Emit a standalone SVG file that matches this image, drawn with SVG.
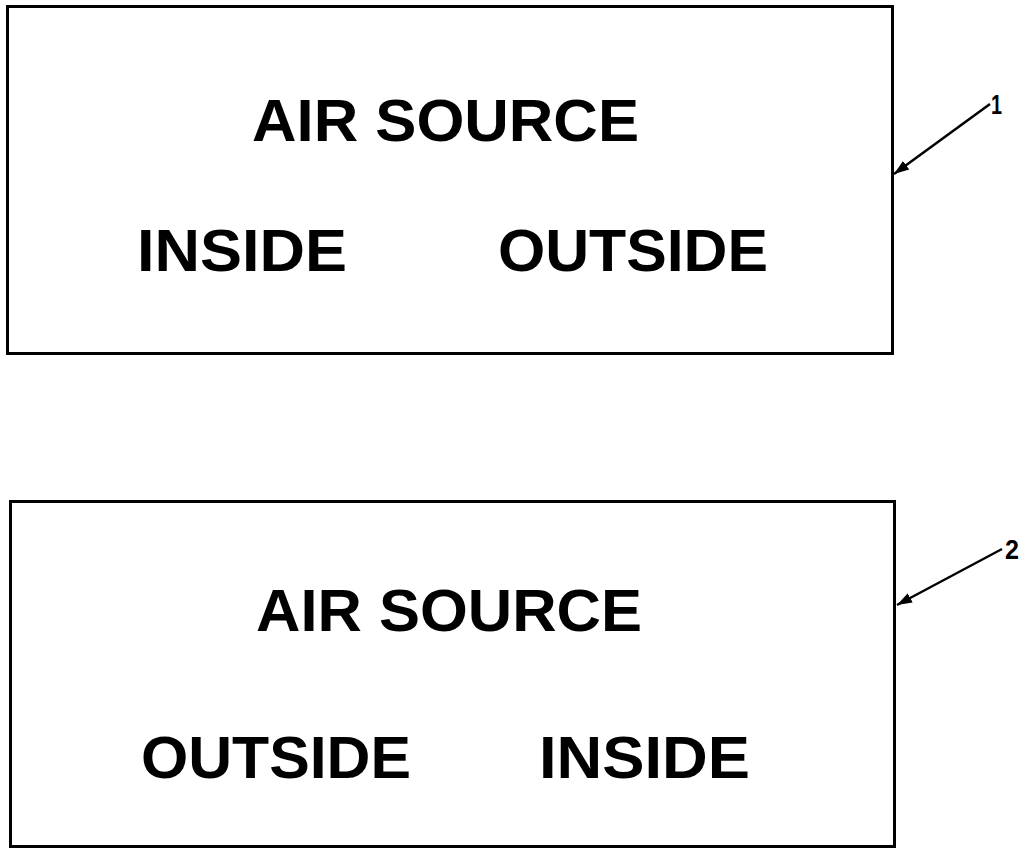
<svg xmlns="http://www.w3.org/2000/svg" width="1022" height="849" viewBox="0 0 1022 849">
<defs>
<style>
.box{fill:#fff;stroke:#000;stroke-width:3}
.big{font-family:"Liberation Sans",Arial,sans-serif;font-weight:bold;font-size:60px;fill:#000}
.ref{font-family:"Liberation Sans",Arial,sans-serif;font-weight:bold;font-size:27px;fill:#000}
.lead{stroke:#000;stroke-width:2.5;fill:none}
</style>
<marker id="ah" viewBox="0 0 10 10" refX="10" refY="5" markerWidth="6" markerHeight="6" orient="auto" markerUnits="strokeWidth">
<path d="M0,1.5 L10,5 L0,8.5 z" fill="#000"/>
</marker>
</defs>
<rect width="1022" height="849" fill="#fff"/>
<g id="node1">
<rect class="box" x="7.5" y="6.5" width="885" height="347"/>
<text class="big" x="252" y="141" textLength="387" lengthAdjust="spacingAndGlyphs">AIR SOURCE</text>
<text class="big" x="137" y="271" textLength="210" lengthAdjust="spacingAndGlyphs">INSIDE</text>
<text class="big" x="498" y="271" textLength="270" lengthAdjust="spacingAndGlyphs">OUTSIDE</text>
</g>
<g id="node2">
<rect class="box" x="10.5" y="501.5" width="884" height="345"/>
<text class="big" x="256" y="631" textLength="386" lengthAdjust="spacingAndGlyphs">AIR SOURCE</text>
<text class="big" x="141" y="778" textLength="270" lengthAdjust="spacingAndGlyphs">OUTSIDE</text>
<text class="big" x="539" y="778" textLength="211" lengthAdjust="spacingAndGlyphs">INSIDE</text>
</g>
<g id="connectors">
<line class="lead" x1="990" y1="104" x2="894" y2="174" marker-end="url(#ah)"/>
<line class="lead" x1="1002" y1="549" x2="897" y2="605" marker-end="url(#ah)"/>
</g>
<g id="labels">
<text class="ref" x="991" y="114" textLength="11" lengthAdjust="spacingAndGlyphs">1</text>
<text class="ref" x="1005" y="559" textLength="14" lengthAdjust="spacingAndGlyphs">2</text>
</g>
</svg>
